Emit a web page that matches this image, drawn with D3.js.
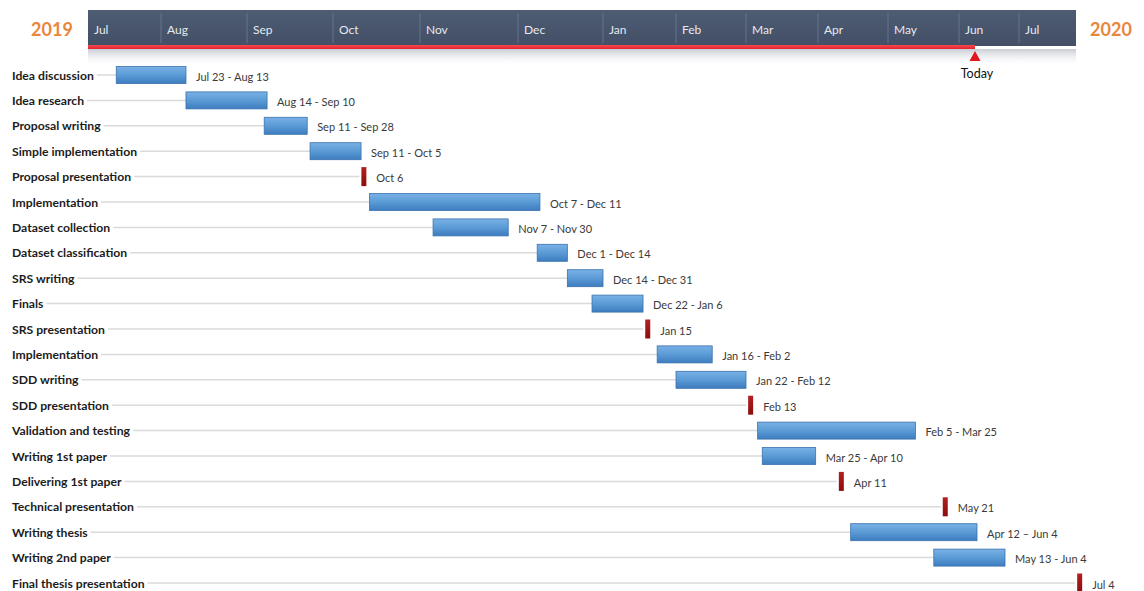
<!DOCTYPE html>
<html><head><meta charset="utf-8">
<script src="https://cdn.jsdelivr.net/npm/d3@7"></script>
<style>body{margin:0;background:#fff}</style>
</head><body>
<svg id="c" width="1144" height="591"></svg>
<script>
// ---- data ----
const tasks = ["Idea discussion","Idea research","Proposal writing","Simple implementation",
  "Proposal presentation","Implementation","Dataset collection","Dataset classification",
  "SRS writing","Finals","SRS presentation","Implementation","SDD writing","SDD presentation",
  "Validation and testing","Writing 1st paper","Delivering 1st paper","Technical presentation",
  "Writing thesis","Writing 2nd paper","Final thesis presentation"];
// bar extents as drawn, read against the header's month axis
const barStart = ["2019-07-13","2019-08-10","2019-09-07","2019-09-23","2019-10-12","2019-10-14",
  "2019-11-05","2019-12-08","2019-12-19","2019-12-28","2020-01-20","2020-01-24","2020-02-01",
  "2020-03-03","2020-03-06","2020-03-08","2020-04-11","2020-05-26","2020-04-15","2020-05-21","2020-08-03"];
const barEnd = ["2019-08-10","2019-09-08","2019-09-22","2019-10-11",null,"2019-12-09",
  "2019-11-28","2019-12-19","2020-01-01","2020-01-18",null,"2020-02-16","2020-03-01",
  null,"2020-05-13","2020-03-31",null,null,"2020-06-10","2020-06-24",null];
const dateLabels = ["Jul 23 - Aug 13","Aug 14 - Sep 10","Sep 11 - Sep 28","Sep 11 - Oct 5","Oct 6",
  "Oct 7 - Dec 11","Nov 7 - Nov 30","Dec 1 - Dec 14","Dec 14 - Dec 31","Dec 22 - Jan 6","Jan 15",
  "Jan 16 - Feb 2","Jan 22 - Feb 12","Feb 13","Feb 5 - Mar 25","Mar 25 - Apr 10","Apr 11","May 21",
  "Apr 12 \u2013 Jun 4","May 13 - Jun 4","Jul 4"];
const monthStarts = ["2019-07-01","2019-08-01","2019-09-01","2019-10-01","2019-11-01","2019-12-01",
  "2020-01-01","2020-02-01","2020-03-01","2020-04-01","2020-05-01","2020-06-01","2020-07-01","2020-08-01"];
const monthLabels = ["Jul","Aug","Sep","Oct","Nov","Dec","Jan","Feb","Mar","Apr","May","Jun","Jul"];
const todayDate = "2020-06-09";
const years = ["2019","2020"];

// ---- layout ----
const parse = d3.utcParse("%Y-%m-%d");
const svg = d3.select("#c");
const hdrL = 88, hdrR = 1076;
const x = d3.scaleUtc().domain(monthStarts.map(parse))
  .range([88,161,247,333,420,518,603,676,746,818,888,959,1019,1076]);
const y = d3.scalePoint().domain(d3.range(tasks.length)).range([75, 583]);
const barH = 17, msH = 19, msW = 5;

const defs = svg.append("defs");
function vgrad(id, stops){
  const g = defs.append("linearGradient").attr("id", id).attr("x1",0).attr("y1",0).attr("x2",0).attr("y2",1);
  stops.forEach(s => g.append("stop").attr("offset", s[0]).attr("stop-color", s[1]).attr("stop-opacity", s[2] ?? 1));
}
vgrad("hdr", [[0,"#4e5c74"],[1,"#424f65"]]);
vgrad("shadow", [[0,"#c9cdd4"],[1,"#ffffff",0]]);
vgrad("bar", [[0,"#79b1e6"],[0.5,"#5b9bd5"],[1,"#3d7cbf"]]);
vgrad("ms", [[0,"#b32020"],[1,"#8c0d0d"]]);
vgrad("redline", [[0,"#f04a52"],[1,"#e8222c"]]);

// header band
svg.append("rect").attr("x", hdrL).attr("y", 49).attr("width", hdrR - hdrL).attr("height", 18).attr("fill", "url(#shadow)");
svg.append("rect").attr("x", hdrL).attr("y", 10).attr("width", hdrR - hdrL).attr("height", 36).attr("fill", "url(#hdr)");
svg.append("rect").attr("x", hdrL).attr("y", 45).attr("width", x(parse(todayDate)) - hdrL).attr("height", 4).attr("fill", "url(#redline)");

// month separators and labels
const ms = monthStarts.map(parse);
svg.append("g").selectAll("line").data(ms.slice(1, -1)).join("line")
  .attr("x1", d => x(d)).attr("x2", d => x(d)).attr("y1", 13).attr("y2", 43)
  .attr("stroke", "#66738a").attr("stroke-width", 1);
svg.append("g").selectAll("text").data(monthLabels).join("text")
  .attr("x", (d, i) => x(ms[i]) + 6).attr("y", 29)
  .attr("dominant-baseline", "central")
  .attr("font-family", "Lato, 'Open Sans', sans-serif").attr("font-size", 12)
  .attr("fill", "#e6e9ee").text(d => d);

// years
svg.append("text").attr("x", 52).attr("y", 29).attr("text-anchor", "middle").attr("dominant-baseline", "central")
  .attr("font-family", "Lato, sans-serif").attr("font-weight", 700).attr("font-size", 18)
  .attr("fill", "#e8863b").text(years[0]);
svg.append("text").attr("x", 1111).attr("y", 29).attr("text-anchor", "middle").attr("dominant-baseline", "central")
  .attr("font-family", "Lato, sans-serif").attr("font-weight", 700).attr("font-size", 18)
  .attr("fill", "#e8863b").text(years[1]);

// today marker
const tx = x(parse(todayDate));
svg.append("path").attr("d", `M${tx},51 L${tx+5.5},61 L${tx-5.5},61 Z`).attr("fill", "#e3161f");
svg.append("text").attr("x", tx + 2).attr("y", 73).attr("text-anchor", "middle").attr("dominant-baseline", "central")
  .attr("font-family", "Lato, sans-serif").attr("font-size", 12.5).attr("fill", "#111").text("Today");

// rows
const rows = svg.append("g").selectAll("g").data(tasks).join("g");
const labels = rows.append("text")
  .attr("x", 12).attr("y", (d, i) => y(i))
  .attr("dominant-baseline", "central")
  .attr("font-family", "Lato, sans-serif").attr("font-weight", 700).attr("font-size", 12.2)
  .attr("fill", "#1c1c1c").text(d => d);

// leader lines
rows.insert("line", "text")
  .attr("x1", function(d, i){ return 12 + labels.nodes()[i].getComputedTextLength() + 3; })
  .attr("x2", (d, i) => barEnd[i] ? x(parse(barStart[i])) : x(parse(barStart[i])) - msW / 2 - 2)
  .attr("y1", (d, i) => y(i)).attr("y2", (d, i) => y(i))
  .attr("stroke", "#dadada").attr("stroke-width", 1.5);

// bars / milestones
rows.append("rect")
  .attr("x", (d, i) => barEnd[i] ? x(parse(barStart[i])) : x(parse(barStart[i])) - msW / 2)
  .attr("y", (d, i) => y(i) - (barEnd[i] ? barH : msH) / 2)
  .attr("width", (d, i) => barEnd[i] ? x(parse(barEnd[i])) - x(parse(barStart[i])) : msW)
  .attr("height", (d, i) => barEnd[i] ? barH : msH)
  .attr("fill", (d, i) => barEnd[i] ? "url(#bar)" : "url(#ms)")
  .attr("stroke", (d, i) => barEnd[i] ? "#3a72ad" : "none")
  .attr("stroke-width", 0.8);

// date labels
rows.append("text")
  .attr("x", (d, i) => (barEnd[i] ? x(parse(barEnd[i])) : x(parse(barStart[i])) + msW / 2) + 10)
  .attr("y", (d, i) => y(i) + 1)
  .attr("dominant-baseline", "central")
  .attr("font-family", "Lato, sans-serif").attr("font-size", 11)
  .attr("fill", "#3a3a3a").text((d, i) => dateLabels[i]);
</script>
</body></html>
